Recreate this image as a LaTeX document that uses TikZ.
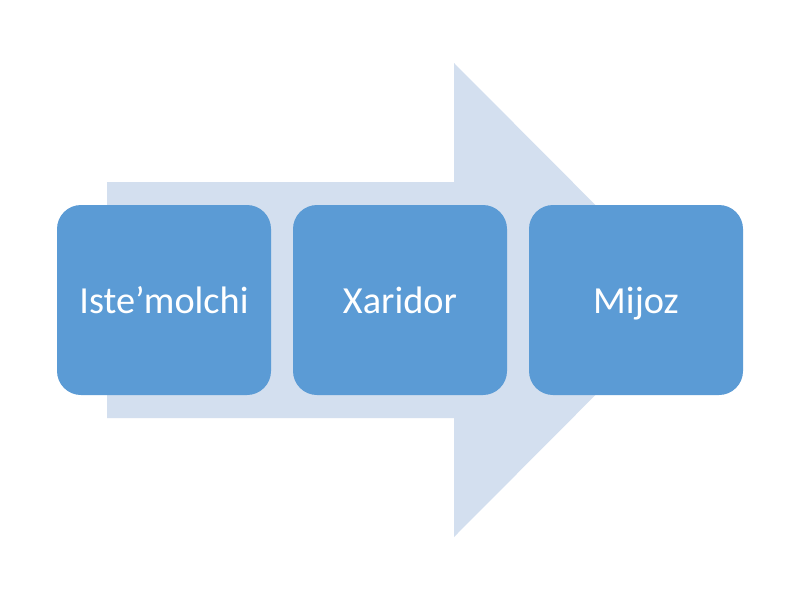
\documentclass[tikz,border=0pt]{standalone}
\usepackage{fontspec}
\setmainfont{Carlito}
\definecolor{boxblue}{HTML}{5B9BD5}
\definecolor{arrowblue}{HTML}{D3DFEF}
\begin{document}
\begin{tikzpicture}[x=1pt,y=-1pt,
  stagebox/.style={fill=boxblue, draw=none, rounded corners=24pt, minimum width=214pt, minimum height=190pt, inner sep=0pt, text=white, text height=26pt, text depth=0pt, font=\fontsize{38.3}{40}\selectfont}]
\useasboundingbox[fill=white] (0,0) rectangle (800,600);
\fill[arrowblue] (107,182) -- (454,182) -- (454,63) -- (690,300) -- (454,537) -- (454,418) -- (107,418) -- cycle;
\node[stagebox] (a) at (164,300) {Iste’molchi};
\node[stagebox] (b) at (400,300) {Xaridor};
\node[stagebox] (c) at (636,300) {Mijoz};
\end{tikzpicture}
\end{document}
